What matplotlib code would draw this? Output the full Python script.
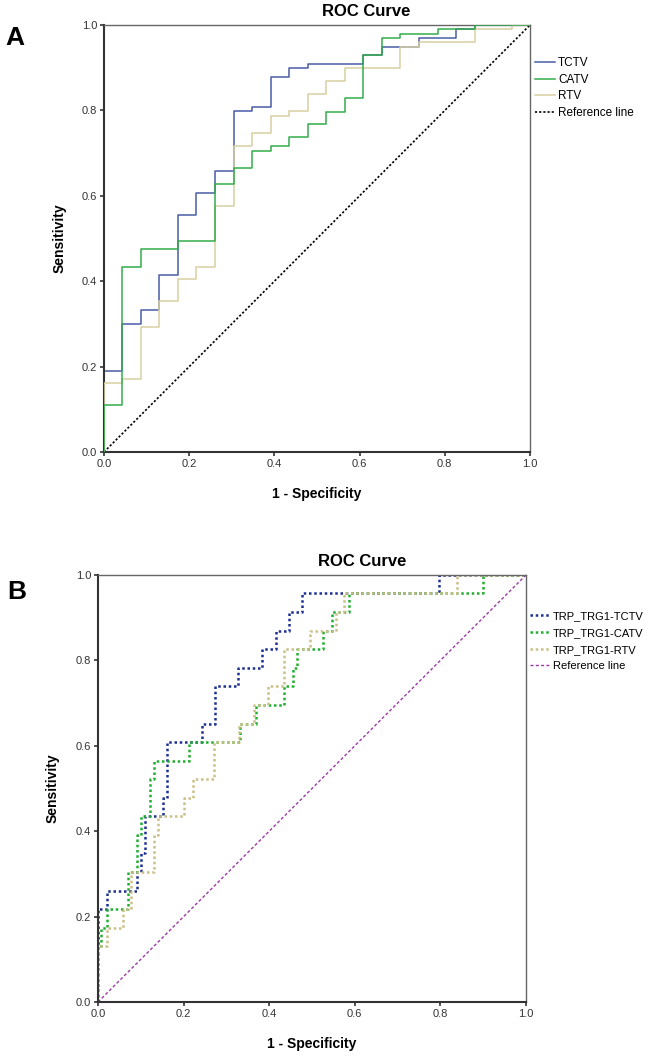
import matplotlib
matplotlib.use('Agg')
from matplotlib import pyplot as plt

plt.rcParams['font.family'] = ['Liberation Sans', 'DejaVu Sans']

# panel A: ROC points (fpr where the curve jumps, tpr reached after the jump)
a_tctv_fpr = [0, 0, 0.043, 0.087, 0.130, 0.174, 0.217, 0.261, 0.304, 0.348, 0.391, 0.435, 0.478, 0.609, 0.652, 0.739, 0.826, 0.870, 1.0]
a_tctv_tpr = [0, 0.19, 0.30, 0.333, 0.414, 0.555, 0.606, 0.657, 0.798, 0.808, 0.878, 0.899, 0.909, 0.929, 0.949, 0.970, 0.990, 1.0, 1.0]

a_catv_fpr = [0, 0, 0.043, 0.087, 0.174, 0.261, 0.304, 0.348, 0.391, 0.435, 0.478, 0.522, 0.565, 0.609, 0.652, 0.696, 0.783, 0.870, 1.0]
a_catv_tpr = [0, 0.11, 0.434, 0.475, 0.495, 0.627, 0.665, 0.706, 0.717, 0.737, 0.767, 0.797, 0.828, 0.929, 0.970, 0.980, 0.990, 1.0, 1.0]

a_rtv_fpr = [0, 0, 0.043, 0.087, 0.130, 0.174, 0.217, 0.261, 0.304, 0.348, 0.391, 0.435, 0.478, 0.522, 0.565, 0.696, 0.739, 0.870, 0.957, 1.0]
a_rtv_tpr = [0, 0.162, 0.172, 0.293, 0.353, 0.404, 0.434, 0.576, 0.717, 0.747, 0.788, 0.798, 0.838, 0.869, 0.899, 0.949, 0.960, 0.990, 1.0, 1.0]

# panel B
b_tctv_fpr = [0, 0, 0.020, 0.090, 0.100, 0.109, 0.152, 0.162, 0.243, 0.273, 0.326, 0.384, 0.417, 0.447, 0.477, 0.797, 1.0]
b_tctv_tpr = [0, 0.217, 0.261, 0.304, 0.348, 0.435, 0.478, 0.609, 0.652, 0.739, 0.783, 0.826, 0.870, 0.913, 0.957, 1.0, 1.0]

b_catv_fpr = [0, 0, 0.006, 0.020, 0.070, 0.090, 0.101, 0.121, 0.131, 0.212, 0.331, 0.370, 0.435, 0.456, 0.466, 0.526, 0.547, 0.587, 0.900, 1.0]
b_catv_tpr = [0, 0.130, 0.174, 0.217, 0.304, 0.391, 0.435, 0.522, 0.565, 0.609, 0.652, 0.696, 0.739, 0.783, 0.826, 0.870, 0.913, 0.957, 1.0, 1.0]

b_rtv_fpr = [0, 0, 0.020, 0.058, 0.078, 0.131, 0.140, 0.201, 0.222, 0.271, 0.329, 0.365, 0.397, 0.435, 0.495, 0.557, 0.574, 0.838, 1.0]
b_rtv_tpr = [0, 0.130, 0.174, 0.217, 0.304, 0.391, 0.435, 0.478, 0.522, 0.609, 0.652, 0.696, 0.739, 0.826, 0.870, 0.913, 0.957, 1.0, 1.0]

ticks = [0.0, 0.2, 0.4, 0.6, 0.8, 1.0]
tick_labels = ['0.0', '0.2', '0.4', '0.6', '0.8', '1.0']

W, H = 650, 1061
fig = plt.figure(figsize=(W / 100, H / 100), dpi=100)


def style_axes(ax):
	ax.set_xlim(0, 1)
	ax.set_ylim(0, 1)
	ax.set_xticks(ticks)
	ax.set_yticks(ticks)
	ax.set_xticklabels(tick_labels)
	ax.set_yticklabels(tick_labels)
	ax.tick_params(direction='out', length=3, width=1.2, color='#333333', labelsize=8, labelcolor='#333333', pad=2)
	for s in ['left', 'bottom']:
		ax.spines[s].set_linewidth(1.5)
		ax.spines[s].set_color('#333333')
	for s in ['top', 'right']:
		ax.spines[s].set_linewidth(1.0)
		ax.spines[s].set_color('#666666')
	ax.set_xlabel('1 - Specificity', fontsize=10, fontweight='bold')
	ax.set_ylabel('Sensitivity', fontsize=10, fontweight='bold')
	ax.xaxis.set_label_coords(0.5, -0.082)
	ax.yaxis.set_label_coords(-0.089, 0.5)


# ---- panel A
axA = fig.add_axes([104 / W, 1 - 452 / H, 426 / W, 427 / H])
axA.step(a_tctv_fpr, a_tctv_tpr, where='post', color='#4a5ca8', lw=1.1, label='TCTV')
axA.step(a_rtv_fpr, a_rtv_tpr, where='post', color='#d8cfa2', lw=1.1, label='RTV', zorder=3)
axA.step(a_catv_fpr, a_catv_tpr, where='post', color='#33ad4a', lw=1.1, label='CATV', zorder=4)
axA.plot([0, 1], [0, 1], color='black', lw=1.2, linestyle=(0, (1.3, 1.2)), label='Reference line')
style_axes(axA)
h, l = axA.get_legend_handles_labels()
order = [0, 2, 1, 3]
axA.legend([h[i] for i in order], [l[i] for i in order], loc='upper left', bbox_to_anchor=(1.012, 0.925),
	frameon=False, fontsize=8.5, handlelength=1.7, handletextpad=0.25, labelspacing=0.4,
	borderpad=0, borderaxespad=0)

# ---- panel B
axB = fig.add_axes([98 / W, 1 - 1002 / H, 428 / W, 427 / H])
dots = (0, (1, 1.1))
axB.step(b_tctv_fpr, b_tctv_tpr, where='post', color='#1c2f92', lw=1.8, linestyle=dots, label='TRP_TRG1-TCTV')
axB.step(b_catv_fpr, b_catv_tpr, where='post', color='#1fae2e', lw=1.8, linestyle=dots, label='TRP_TRG1-CATV')
axB.step(b_rtv_fpr, b_rtv_tpr, where='post', color='#cbbf85', lw=1.8, linestyle=dots, label='TRP_TRG1-RTV')
axB.plot([0, 1], [0, 1], color='#9c3aa6', lw=1.0, linestyle=(0, (2.2, 1.6)), label='Reference line')
style_axes(axB)
axB.legend(loc='upper left', bbox_to_anchor=(1.01, 0.915),
	frameon=False, fontsize=8, handlelength=1.8, handletextpad=0.25, labelspacing=0.6,
	borderpad=0, borderaxespad=0)

# titles and panel letters
fig.text(366 / W, 1 - 12 / H, 'ROC Curve', ha='center', va='center', fontsize=12, fontweight='bold')
fig.text(362 / W, 1 - 562 / H, 'ROC Curve', ha='center', va='center', fontsize=12, fontweight='bold')
fig.text(5 / W, 1 - 38 / H, 'A', ha='left', va='center', fontsize=19, fontweight='bold')
fig.text(7 / W, 1 - 592 / H, 'B', ha='left', va='center', fontsize=19, fontweight='bold')

fig.savefig('out.png', dpi=100)
